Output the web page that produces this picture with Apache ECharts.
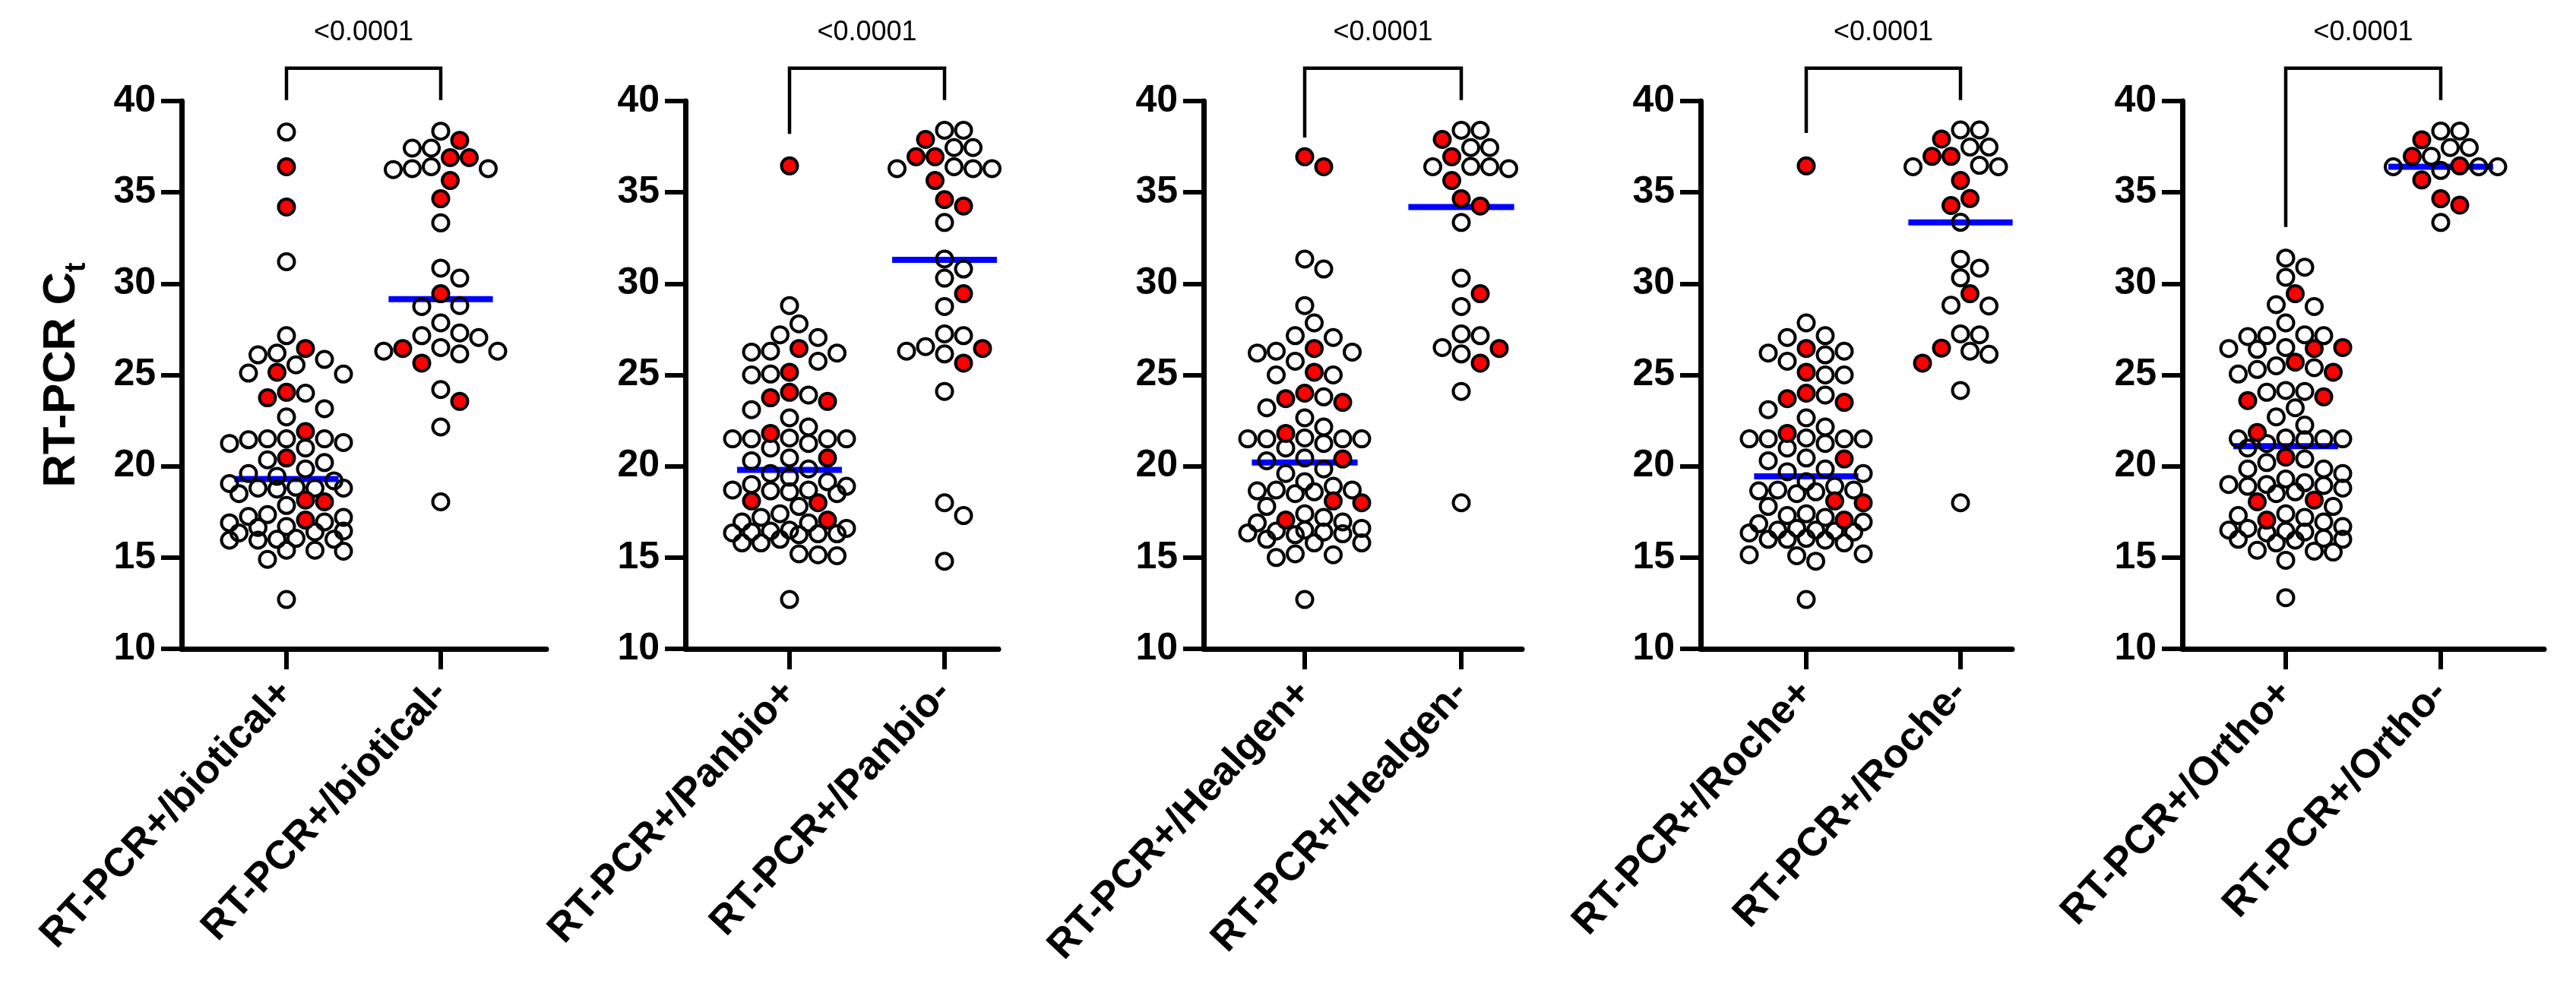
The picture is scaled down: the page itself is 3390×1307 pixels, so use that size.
<!DOCTYPE html>
<html><head><meta charset="utf-8">
<script src="https://cdn.jsdelivr.net/npm/echarts@6/dist/echarts.min.js"></script>
<style>html,body{margin:0;padding:0;background:#fff}#c{width:3390px;height:1307px}</style>
</head><body><div id="c"></div>
<script>
// ---------------- data ----------------
const categoryLabels = [
  ['RT-PCR+/biotical+', 'RT-PCR+/biotical-'],
  ['RT-PCR+/Panbio+', 'RT-PCR+/Panbio-'],
  ['RT-PCR+/Healgen+', 'RT-PCR+/Healgen-'],
  ['RT-PCR+/Roche+', 'RT-PCR+/Roche-'],
  ['RT-PCR+/Ortho+', 'RT-PCR+/Ortho-']
];
const yTicks = [10, 15, 20, 25, 30, 35, 40];
const pValues = ['<0.0001', '<0.0001', '<0.0001', '<0.0001', '<0.0001'];

const bioticalPosOpen = [38.3, 31.2, 27.15, 26.2, 26.1, 25.85, 25.55, 25.1, 25.05, 24.0, 23.15, 22.7, 21.5, 21.5, 21.5, 21.45, 21.3, 21.25, 21.0, 20.35, 20.2, 19.85, 19.6, 19.45, 19.2, 19.05, 18.85, 18.8, 18.8, 18.75, 18.8, 18.5, 17.85, 17.35, 17.25, 17.2, 16.9, 16.95, 16.7, 16.65, 16.45, 16.4, 16.35, 16.05, 16.0, 15.95, 16.0, 15.95, 15.4, 15.35, 15.4, 14.9, 12.7];
const bioticalPosRed = [36.4, 34.2, 26.45, 25.15, 24.05, 23.75, 21.9, 20.45, 18.15, 18.05, 17.05];
const bioticalNegOpen = [38.35, 37.42, 37.42, 36.25, 36.3, 36.4, 36.3, 33.33, 30.85, 30.3, 28.8, 28.75, 27.85, 27.15, 27.3, 27.05, 26.15, 26.3, 26.5, 26.3, 24.2, 22.15, 18.05];
const bioticalNegRed = [37.85, 36.9, 36.9, 35.65, 34.65, 29.45, 26.45, 25.65, 23.55];

const panbioPosOpen = [28.8, 27.8, 27.2, 27.05, 26.2, 26.25, 26.3, 25.75, 25.05, 25.0, 23.9, 23.1, 22.65, 22.15, 21.55, 21.5, 21.5, 21.5, 21.5, 21.25, 21.0, 20.45, 20.3, 19.85, 19.6, 19.4, 19.15, 19.0, 18.9, 18.7, 18.7, 18.6, 18.65, 18.5, 17.8, 17.4, 17.2, 16.95, 16.9, 16.5, 16.6, 16.45, 16.4, 16.35, 16.3, 16.3, 16.25, 16.0, 15.8, 15.8, 15.15, 15.2, 15.1, 12.7];
const panbioPosRed = [36.45, 26.45, 25.15, 24.05, 23.75, 23.55, 21.8, 20.45, 18.1, 18.0, 17.05];
const panbioNegOpen = [38.4, 38.4, 37.45, 37.45, 36.4, 36.3, 36.3, 36.3, 33.35, 31.35, 30.8, 30.3, 28.75, 27.25, 27.15, 26.55, 26.3, 26.15, 24.1, 18.0, 17.3, 14.8];
const panbioNegRed = [37.9, 36.95, 36.95, 35.65, 34.6, 34.25, 29.45, 26.45, 25.65];

const healgenPosOpen = [31.35, 30.8, 28.8, 27.85, 27.15, 27.05, 26.2, 26.25, 26.3, 25.75, 25.0, 25.0, 23.8, 23.2, 22.65, 22.15, 21.55, 21.5, 21.5, 21.5, 21.5, 21.25, 21.0, 20.45, 20.3, 19.85, 19.6, 19.15, 18.9, 18.7, 18.7, 18.6, 18.65, 18.5, 17.8, 17.4, 17.2, 16.95, 16.9, 16.5, 16.6, 16.45, 16.4, 16.35, 16.3, 16.25, 16.0, 15.8, 15.8, 15.15, 15.2, 15.0, 12.7];
const healgenPosRed = [36.95, 36.4, 26.45, 25.15, 24.0, 23.7, 23.5, 21.8, 20.4, 18.1, 18.0, 17.05];
const healgenNegOpen = [38.4, 38.4, 37.45, 37.45, 36.4, 36.4, 36.3, 36.42, 33.35, 30.3, 28.75, 27.15, 27.25, 26.15, 26.5, 24.1, 18.0];
const healgenNegRed = [37.9, 36.95, 35.65, 34.65, 34.25, 29.45, 26.45, 25.65];

const rochePosOpen = [27.85, 27.15, 27.05, 26.3, 26.1, 26.2, 25.75, 25.0, 25.0, 23.9, 23.1, 22.65, 22.15, 21.55, 21.5, 21.5, 21.5, 21.5, 21.25, 21.0, 20.3, 20.45, 19.85, 19.7, 19.6, 19.15, 18.9, 18.7, 18.7, 18.65, 18.6, 18.5, 17.8, 17.4, 17.3, 17.2, 16.95, 16.85, 16.6, 16.5, 16.5, 16.45, 16.4, 16.35, 16.0, 16.05, 15.95, 16.0, 15.8, 15.15, 15.1, 15.2, 14.8, 12.7];
const rochePosRed = [36.45, 26.45, 25.15, 24.0, 23.7, 23.5, 21.8, 20.4, 18.1, 18.0, 17.05];
const rocheNegOpen = [38.42, 38.42, 37.48, 37.48, 36.4, 36.48, 36.4, 36.3, 33.36, 31.34, 30.85, 30.32, 28.78, 28.82, 27.2, 27.25, 26.13, 26.3, 24.15, 18.0];
const rocheNegRed = [37.92, 36.97, 36.97, 35.65, 34.66, 34.28, 29.45, 26.47, 25.65];

const orthoPosOpen = [31.4, 30.9, 30.35, 28.85, 28.75, 27.85, 27.2, 27.15, 27.1, 27.15, 26.5, 26.45, 26.4, 25.5, 25.4, 25.3, 25.05, 24.15, 24.1, 24.05, 23.2, 22.7, 22.25, 21.55, 21.5, 21.5, 21.45, 21.5, 21.25, 21.0, 20.4, 20.2, 19.85, 19.85, 19.6, 19.3, 19.1, 19.0, 19.0, 18.95, 18.9, 18.8, 18.6, 18.5, 17.8, 17.4, 17.3, 17.2, 16.95, 16.7, 16.6, 16.5, 16.45, 16.4, 16.35, 16.05, 16.0, 16.0, 15.95, 15.8, 15.4, 15.35, 15.3, 14.85, 12.8];
const orthoPosRed = [29.45, 26.5, 26.45, 25.7, 25.15, 23.8, 23.6, 21.85, 20.5, 18.15, 18.05, 17.05];
const orthoNegOpen = [38.36, 38.36, 37.45, 37.45, 36.97, 36.2, 36.4, 36.4, 36.4, 33.35];
const orthoNegRed = [37.88, 36.97, 36.45, 35.68, 34.65, 34.3];

const medians = [[19.3, 29.15], [19.8, 31.3], [20.2, 34.2], [19.45, 33.35], [21.1, 36.4]];
const bracketLeftEnd = [40.05, 38.2, 38.0, 38.25, 33.1];
const bracketRightEnd = [40.05, 40.05, 40.05, 40.05, 40.05];
const bracketTop = 41.8;
const pLabelLevel = 43.75;

const groups = [
  [[bioticalPosOpen, bioticalPosRed], [bioticalNegOpen, bioticalNegRed]],
  [[panbioPosOpen, panbioPosRed], [panbioNegOpen, panbioNegRed]],
  [[healgenPosOpen, healgenPosRed], [healgenNegOpen, healgenNegRed]],
  [[rochePosOpen, rochePosRed], [rocheNegOpen, rocheNegRed]],
  [[orthoPosOpen, orthoPosRed], [orthoNegOpen, orthoNegRed]]
];

// ---------------- layout (pixels) ----------------
const layout = [
  {left: 239, width: 480, t0: 377, t1: 580},
  {left: 902, width: 412, t0: 1039, t1: 1243},
  {left: 1584, width: 419, t0: 1717, t1: 1923},
  {left: 2238, width: 410, t0: 2377, t1: 2580},
  {left: 2872, width: 476, t0: 3008, t1: 3212}
];
const FONT = '"Liberation Sans", Arial, Helvetica, sans-serif';
const MARK = 21, MARK_BORDER = 4, DIAM = MARK + MARK_BORDER;

const chart = echarts.init(document.getElementById('c'), null, {renderer: 'canvas', width: 3390, height: 1307});

const grids = [], xAxes = [], yAxes = [];
layout.forEach((L, i) => {
  const d = L.t1 - L.t0;
  grids.push({left: L.left, top: 133, width: L.width, height: 721, containLabel: false});
  xAxes.push({
    type: 'value', gridIndex: i,
    min: -(L.t0 - L.left) / d, max: 1 + (L.left + L.width - L.t1) / d,
    splitLine: {show: false},
    axisLine: {show: true, onZero: false, lineStyle: {color: '#000', width: 7}},
    axisTick: {show: true, customValues: [0, 1], length: 27, lineStyle: {color: '#000', width: 6}},
    axisLabel: {
      show: true, customValues: [0, 1], rotate: 47, margin: 50,
      fontSize: 53, fontWeight: 'bold', fontFamily: FONT, color: '#000',
      formatter: v => categoryLabels[i][Math.round(v)]
    }
  });
  const y = {
    type: 'value', gridIndex: i, min: yTicks[0], max: yTicks[yTicks.length - 1], interval: 5,
    splitLine: {show: false},
    axisLine: {show: true, onZero: false, lineStyle: {color: '#000', width: 7}},
    axisTick: {show: true, length: 27, lineStyle: {color: '#000', width: 6}},
    axisLabel: {fontSize: 50, fontWeight: 'bold', fontFamily: FONT, color: '#000', margin: 34}
  };
  if (i === 0) {
    y.name = '{a|RT-PCR C}{b|t}';
    y.nameLocation = 'middle';
    y.nameRotate = 90;
    y.nameGap = 118;
    y.nameTextStyle = {
      rich: {
        a: {fontSize: 60, fontWeight: 'bold', fontFamily: FONT, color: '#000', lineHeight: 80},
        b: {fontSize: 38, fontWeight: 'bold', fontFamily: FONT, color: '#000', lineHeight: 12, verticalAlign: 'bottom'}
      }
    };
  }
  yAxes.push(y);
});

chart.setOption({animation: false, backgroundColor: '#fff', grid: grids, xAxis: xAxes, yAxis: yAxes, series: []});

// beeswarm layout in pixel space
function swarm(points, pxY, maxW) {
  const order = points.map((p, i) => i).sort((a, b) => points[b].v - points[a].v);
  const placed = [];
  const step = DIAM / 2;
  const cands = [0];
  for (let k = 1; k * step <= maxW; k++) cands.push(k * step, -k * step);
  order.forEach(i => {
    const y = points[i].v * pxY;
    let chosen = null, fb = 0, fbScore = -1;
    for (const c of cands) {
      let minD = Infinity;
      for (const p of placed) {
        const dist = Math.hypot(c - p.x, y - p.y);
        if (dist < minD) minD = dist;
      }
      if (minD >= DIAM * 0.97) { chosen = c; break; }
      if (minD > fbScore) { fbScore = minD; fb = c; }
    }
    if (chosen === null) chosen = fb;
    placed.push({x: chosen, y: y});
    points[i].x = chosen;
  });
  return points;
}

const series = [];
groups.forEach((g, i) => {
  const p0 = chart.convertToPixel({gridIndex: i}, [0, 10]);
  const p1 = chart.convertToPixel({gridIndex: i}, [1, 40]);
  const pxX = p1[0] - p0[0];
  const pxY = (p0[1] - p1[1]) / 30;
  const openData = [], redData = [];
  g.forEach((grp, cat) => {
    const pts = grp[0].map(v => ({v: v, red: false})).concat(grp[1].map(v => ({v: v, red: true})));
    swarm(pts, pxY, 75);
    pts.forEach(p => {
      const item = [cat + p.x / pxX, p.v];
      (p.red ? redData : openData).push(item);
    });
  });
  series.push({
    type: 'custom', xAxisIndex: i, yAxisIndex: i, z: 1, clip: false, silent: true,
    data: medians[i].map((m, cat) => [cat, m]),
    renderItem: (params, api) => {
      const c = api.value(0), m = api.value(1);
      const a = api.coord([c - 0.338, m]), b = api.coord([c + 0.338, m]);
      return {type: 'line', shape: {x1: a[0], y1: a[1], x2: b[0], y2: b[1]}, style: {stroke: '#0000ff', lineWidth: 8, lineCap: 'butt'}};
    }
  });
  series.push({
    type: 'scatter', xAxisIndex: i, yAxisIndex: i, z: 2, silent: true,
    symbol: 'circle', symbolSize: MARK, data: openData,
    itemStyle: {color: 'rgba(0,0,0,0)', borderColor: '#000', borderWidth: MARK_BORDER, opacity: 1}
  });
  series.push({
    type: 'scatter', xAxisIndex: i, yAxisIndex: i, z: 3, silent: true,
    symbol: 'circle', symbolSize: MARK, data: redData,
    itemStyle: {color: '#ff0000', borderColor: '#000', borderWidth: MARK_BORDER, opacity: 1}
  });
  series.push({
    type: 'custom', xAxisIndex: i, yAxisIndex: i, z: 4, clip: false, silent: true,
    data: [[0, 1, bracketTop, bracketLeftEnd[i], bracketRightEnd[i], pLabelLevel]],
    renderItem: (params, api) => {
      const a = api.coord([api.value(0), api.value(3)]);
      const at = api.coord([api.value(0), api.value(2)]);
      const bt = api.coord([api.value(1), api.value(2)]);
      const b = api.coord([api.value(1), api.value(4)]);
      const t = api.coord([(api.value(0) + api.value(1)) / 2, api.value(5)]);
      return {type: 'group', children: [
        {type: 'polyline', shape: {points: [a, at, bt, b]}, style: {stroke: '#000', lineWidth: 4.5, fill: null, lineJoin: 'miter'}},
        {type: 'text', x: t[0], y: t[1], style: {text: pValues[i], fontSize: 36, fontFamily: FONT, fill: '#000', align: 'center', verticalAlign: 'middle'}}
      ]};
    }
  });
});
chart.setOption({series: series});
</script></body></html>
